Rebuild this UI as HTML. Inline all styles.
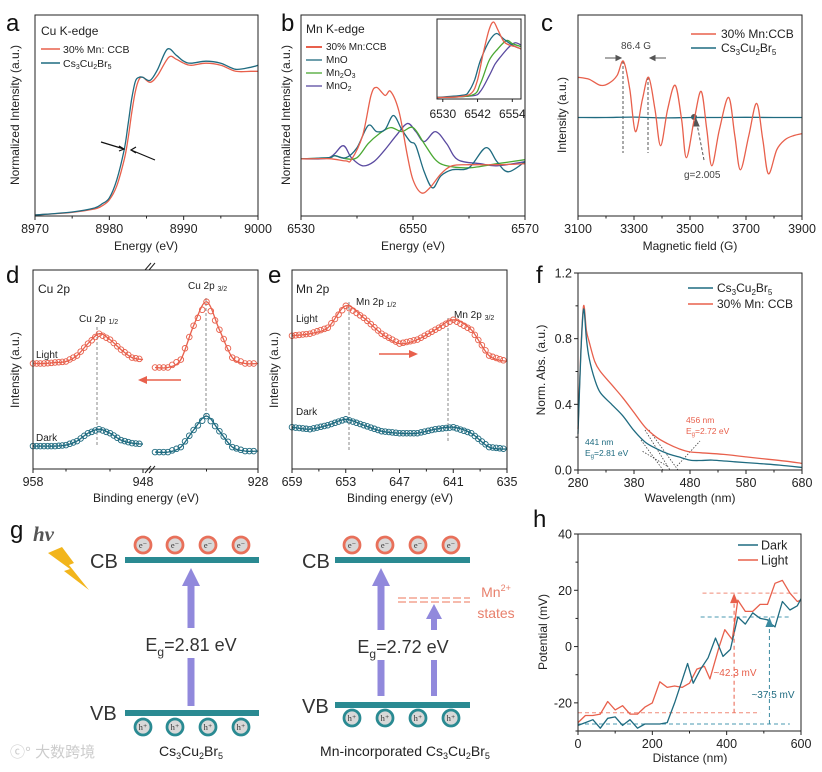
<!DOCTYPE html>
<html><head><meta charset="utf-8"><style>
html,body{margin:0;padding:0;background:#fff;}
svg{display:block;font-family:"Liberation Sans","Noto Sans CJK SC",sans-serif;}
</style></head><body>
<svg id="chart" width="822" height="772" viewBox="0 0 822 772" xmlns="http://www.w3.org/2000/svg">
<rect x="0" y="0" width="822" height="772" fill="#fff"/>
<g font-size="24" fill="#111">
<text x="6" y="31">a</text>
<text x="281" y="31">b</text>
<text x="541" y="31">c</text>
<text x="6" y="283">d</text>
<text x="268" y="283">e</text>
<text x="536" y="283">f</text>
<text x="10" y="538">g</text>
<text x="533" y="527">h</text>
</g>
<g font-size="10.5" fill="#222">
<text x="41" y="35" font-size="12">Cu K-edge</text>
<line x1="41" y1="49" x2="60" y2="49" stroke="#e8604c" stroke-width="1.5"/>
<text x="63" y="53">30% Mn: CCB</text>
<line x1="41" y1="63" x2="60" y2="63" stroke="#1f6b80" stroke-width="1.5"/>
<text x="63" y="67">Cs<tspan font-size="7" dy="2">3</tspan><tspan dy="-2">Cu</tspan><tspan font-size="7" dy="2">2</tspan><tspan dy="-2">Br</tspan><tspan font-size="7" dy="2">5</tspan></text>
</g>
<g font-size="10" fill="#222">
<text x="306" y="33" font-size="12">Mn K-edge</text>
<line x1="306" y1="47" x2="322" y2="47" stroke="#e8604c" stroke-width="2"/>
<text x="326" y="50">30% Mn:CCB</text>
<line x1="306" y1="60" x2="322" y2="60" stroke="#1f6b80" stroke-width="1.3"/>
<text x="326" y="63">MnO</text>
<line x1="306" y1="73" x2="322" y2="73" stroke="#4aa832" stroke-width="1.3"/>
<text x="326" y="76">Mn<tspan font-size="7" dy="2">2</tspan><tspan dy="-2">O</tspan><tspan font-size="7" dy="2">3</tspan></text>
<line x1="306" y1="86" x2="322" y2="86" stroke="#5a4aa0" stroke-width="1.3"/>
<text x="326" y="89">MnO<tspan font-size="7" dy="2">2</tspan></text>
</g>
<g font-size="12" fill="#222">
<line x1="691" y1="34" x2="716" y2="34" stroke="#e8604c" stroke-width="1.5"/>
<text x="721" y="38">30% Mn:CCB</text>
<line x1="691" y1="48" x2="716" y2="48" stroke="#1f6b80" stroke-width="1.5"/>
<text x="721" y="52">Cs<tspan font-size="8" dy="3">3</tspan><tspan dy="-3">Cu</tspan><tspan font-size="8" dy="3">2</tspan><tspan dy="-3">Br</tspan><tspan font-size="8" dy="3">5</tspan></text>
</g>
<g stroke="#555" fill="none">
<line x1="623" y1="61" x2="623" y2="153" stroke-dasharray="3,2"/>
<line x1="648" y1="77" x2="648" y2="153" stroke-dasharray="3,2"/>
<line x1="605" y1="58" x2="621" y2="58"/>
<path d="M621,58 l-5,-2.5 v5z" fill="#555"/>
<line x1="666" y1="58" x2="650" y2="58"/>
<path d="M650,58 l5,-2.5 v5z" fill="#555"/>
<line x1="704" y1="160" x2="697" y2="124" stroke-dasharray="3,2"/>
<path d="M696,119 l-3,7 l6,0z" fill="#555"/>
<circle cx="694" cy="117" r="2.5" fill="#555"/>
</g>
<text x="621" y="49" font-size="10" fill="#444">86.4 G</text>
<text x="684" y="178" font-size="10" fill="#444">g=2.005</text>
<g>
<text x="38" y="293" font-size="12" fill="#222">Cu 2p</text>
<text x="79" y="322" font-size="10" fill="#222">Cu 2p <tspan font-size="7" dy="2">1/2</tspan></text>
<text x="188" y="289" font-size="10" fill="#222">Cu 2p <tspan font-size="7" dy="2">3/2</tspan></text>
<text x="36" y="358" font-size="10" fill="#222">Light</text>
<text x="36" y="441" font-size="10" fill="#222">Dark</text>
<line x1="97" y1="327" x2="97" y2="447" stroke="#888" stroke-dasharray="3,2"/>
<line x1="206" y1="298" x2="206" y2="417" stroke="#888" stroke-dasharray="3,2"/>
<line x1="181" y1="380" x2="145" y2="380" stroke="#e8604c" stroke-width="1.5"/>
<path d="M138,380 l9,-4 v8z" fill="#e8604c"/>
<rect x="148" y="262" width="8" height="8" fill="#fff"/>
<rect x="148" y="465" width="8" height="8" fill="#fff"/>
<path d="M145,270 l6,-7 M149,270 l6,-7 M145,473 l6,-7 M149,473 l6,-7" stroke="#222"/>
</g>
<g>
<text x="296" y="293" font-size="12" fill="#222">Mn 2p</text>
<text x="356" y="305" font-size="10" fill="#222">Mn 2p <tspan font-size="7" dy="2">1/2</tspan></text>
<text x="454" y="318" font-size="10" fill="#222">Mn 2p <tspan font-size="7" dy="2">3/2</tspan></text>
<text x="296" y="322" font-size="10" fill="#222">Light</text>
<text x="296" y="415" font-size="10" fill="#222">Dark</text>
<line x1="349" y1="302" x2="349" y2="450" stroke="#888" stroke-dasharray="3,2"/>
<line x1="448" y1="318" x2="448" y2="443" stroke="#888" stroke-dasharray="3,2"/>
<line x1="379" y1="354" x2="410" y2="354" stroke="#e8604c" stroke-width="1.5"/>
<path d="M418,354 l-9,-4 v8z" fill="#e8604c"/>
</g>
<g font-size="12" fill="#222">
<line x1="688" y1="288" x2="713" y2="288" stroke="#1f6b80" stroke-width="1.5"/>
<text x="717" y="292">Cs<tspan font-size="8" dy="3">3</tspan><tspan dy="-3">Cu</tspan><tspan font-size="8" dy="3">2</tspan><tspan dy="-3">Br</tspan><tspan font-size="8" dy="3">5</tspan></text>
<line x1="688" y1="304" x2="713" y2="304" stroke="#e8604c" stroke-width="1.5"/>
<text x="717" y="308">30% Mn: CCB</text>
</g>
<g font-size="8.5">
<text x="686" y="423" fill="#e8604c">456 nm</text>
<text x="686" y="434" fill="#e8604c">E<tspan font-size="6" dy="2">g</tspan><tspan dy="-2">=2.72 eV</tspan></text>
<text x="585" y="445" fill="#1f6b80">441 nm</text>
<text x="585" y="456" fill="#1f6b80">E<tspan font-size="6" dy="2">g</tspan><tspan dy="-2">=2.81 eV</tspan></text>
<g stroke="#444" stroke-dasharray="1.5,1.5" fill="none" stroke-width="0.8">
<line x1="645" y1="430" x2="670" y2="470"/>
<line x1="649" y1="430" x2="678" y2="470"/>
<line x1="641" y1="440" x2="663" y2="470"/>
<line x1="667" y1="466" x2="642" y2="451"/>
<line x1="677" y1="466" x2="700" y2="441"/>
</g>
</g>
<g>
<text x="33" y="541" font-size="21" font-style="italic" font-weight="bold" font-family="Liberation Serif,serif" fill="#555">hv</text>
<polygon points="48,553 62,547 74,563 69,565 89,590 64,571 70,569" fill="#f2b51c"/>
<text x="90" y="568" font-size="20" fill="#333">CB</text>
<rect x="125" y="557" width="134" height="6" fill="#2a8a92"/>
<text x="90" y="720" font-size="20" fill="#333">VB</text>
<rect x="125" y="710" width="134" height="6" fill="#2a8a92"/>
<text x="302" y="568" font-size="20" fill="#333">CB</text>
<rect x="335" y="557" width="135" height="6" fill="#2a8a92"/>
<text x="302" y="713" font-size="20" fill="#333">VB</text>
<rect x="335" y="702" width="135" height="6" fill="#2a8a92"/>
<g fill="#9189dc">
<path d="M182,586 L191,568 L200,586 Z"/>
<rect x="187.5" y="585" width="7" height="43"/>
<rect x="187.5" y="658" width="7" height="48"/>
<path d="M372,586 L381,568 L390,586 Z"/>
<rect x="377.5" y="585" width="7" height="45"/>
<rect x="377.5" y="660" width="7" height="36"/>
<path d="M426,619 L434,604 L442,619 Z"/>
<rect x="431" y="618" width="6" height="12"/>
<rect x="431" y="660" width="6" height="36"/>
</g>
<text x="191" y="651" font-size="18" fill="#333" text-anchor="middle">E<tspan font-size="12" dy="5">g</tspan><tspan dy="-5">=2.81 eV</tspan></text>
<text x="403" y="653" font-size="18" fill="#333" text-anchor="middle">E<tspan font-size="12" dy="5">g</tspan><tspan dy="-5">=2.72 eV</tspan></text>
<line x1="398" y1="598" x2="470" y2="598" stroke="#f0907a" stroke-width="1.3" stroke-dasharray="8,3"/>
<line x1="398" y1="602" x2="470" y2="602" stroke="#f0907a" stroke-width="1.3" stroke-dasharray="8,3"/>
<text x="496" y="597" font-size="14" fill="#e8806c" text-anchor="middle">Mn<tspan font-size="9" dy="-6">2+</tspan></text>
<text x="496" y="618" font-size="14" fill="#e8806c" text-anchor="middle">states</text>
<text x="191" y="756" font-size="14" fill="#222" text-anchor="middle">Cs<tspan font-size="9" dy="3">3</tspan><tspan dy="-3">Cu</tspan><tspan font-size="9" dy="3">2</tspan><tspan dy="-3">Br</tspan><tspan font-size="9" dy="3">5</tspan></text>
<text x="405" y="756" font-size="14" fill="#222" text-anchor="middle">Mn-incorporated Cs<tspan font-size="9" dy="3">3</tspan><tspan dy="-3">Cu</tspan><tspan font-size="9" dy="3">2</tspan><tspan dy="-3">Br</tspan><tspan font-size="9" dy="3">5</tspan></text>
<text x="10" y="757" font-size="15" fill="#ccc">ⓒ° 大数跨境</text>
</g>
<g id="dyn"></g>
</svg>
<script>
const aEnergy=[8970,8975,8978,8979,8980,8981,8982,8982.5,8983,8983.5,8984,8984.5,8985.5,8986.5,8987.8,8989,8990,8991,8993,8995,8997,8999,9000];
const aCs=[0.005,0.02,0.04,0.06,0.09,0.18,0.33,0.45,0.58,0.67,0.69,0.69,0.675,0.73,0.83,0.80,0.77,0.76,0.77,0.76,0.73,0.74,0.75];
const aEnergyCCB=[8970,8975,8978,8979,8980,8981,8982,8982.5,8983,8983.5,8984,8984.5,8985.5,8986.5,8988,8989,8990,8991,8993,8995,8997,8999,9000];
const aCCB=[0.005,0.018,0.035,0.05,0.08,0.15,0.28,0.38,0.51,0.62,0.68,0.69,0.665,0.70,0.79,0.78,0.76,0.75,0.76,0.75,0.72,0.72,0.72];

const bE_CCB=[6530,6535,6538,6539,6541,6542.5,6543.5,6545,6546,6547.5,6549,6550,6551.5,6553,6555,6557,6560,6565,6570];
const bCCB=[0.284,0.285,0.274,0.28,0.40,0.60,0.64,0.60,0.62,0.52,0.30,0.18,0.115,0.14,0.21,0.25,0.255,0.255,0.26];
const bE_MnO=[6530,6535,6536,6538,6540,6542,6543.5,6545,6546.5,6548,6549.5,6550.5,6552,6553.5,6555,6557,6560,6563,6565,6567,6570];
const bMnO=[0.284,0.29,0.30,0.29,0.34,0.45,0.42,0.43,0.50,0.43,0.37,0.35,0.22,0.14,0.20,0.23,0.24,0.34,0.27,0.22,0.27];
const bE_Mn2O3=[6530,6535,6536,6538,6540,6542,6544,6546,6548,6550,6552,6554,6556,6560,6565,6570];
const bMn2O3=[0.284,0.29,0.30,0.285,0.29,0.36,0.41,0.44,0.42,0.44,0.36,0.28,0.25,0.24,0.26,0.28];
const bE_MnO2=[6530,6535,6537.5,6539,6541,6543,6545,6547,6549,6550.5,6552,6554,6556,6558,6562,6565,6570];
const bMnO2=[0.284,0.29,0.35,0.29,0.25,0.27,0.33,0.40,0.46,0.42,0.37,0.42,0.36,0.28,0.26,0.25,0.27];
const inE_CCB=[6528,6536,6540,6542,6544,6546,6547.5,6549,6551,6553,6555,6557];
const inCCB=[0.02,0.03,0.08,0.25,0.6,0.9,1.0,0.9,0.75,0.7,0.68,0.65];
const inE_MnO=[6528,6537,6539,6541,6543,6546,6548.5,6551,6554,6557];
const inMnO=[0.02,0.05,0.1,0.25,0.5,0.75,0.85,0.78,0.7,0.65];
const inE_Mn2O3=[6528,6540,6543,6546,6549,6552,6554,6557];
const inMn2O3=[0.02,0.05,0.2,0.5,0.65,0.76,0.72,0.68];
const inE_MnO2=[6528,6540,6543,6546,6548,6550,6553,6555,6557];
const inMnO2=[0.02,0.04,0.1,0.3,0.45,0.55,0.68,0.73,0.7];

const cField=[3100,3140,3180,3210,3240,3262,3285,3305,3330,3352,3375,3395,3420,3447,3470,3487,3515,3540,3560,3578,3605,3638,3660,3680,3710,3738,3760,3780,3810,3840,3870,3900];
const cCCB=[0.69,0.68,0.65,0.66,0.70,0.77,0.63,0.42,0.58,0.69,0.53,0.35,0.53,0.65,0.48,0.29,0.48,0.62,0.43,0.25,0.43,0.59,0.40,0.23,0.40,0.56,0.38,0.21,0.33,0.38,0.40,0.41];
const cFieldCs=[3100,3200,3300,3400,3500,3600,3700,3800,3900];
const cCs=[0.49,0.49,0.492,0.488,0.49,0.49,0.491,0.49,0.49];

const dE_left=[958,957,956,955,954,953,952,951,950,949,948];
const dLightLeft=[0.53,0.53,0.535,0.54,0.57,0.63,0.68,0.65,0.60,0.56,0.55];
const dDarkLeft=[0.115,0.115,0.115,0.12,0.14,0.18,0.20,0.18,0.145,0.13,0.125];
const dE_right=[936,935,934,933,932,931,930,929,928];
const dLightRight=[0.51,0.51,0.55,0.72,0.84,0.70,0.56,0.53,0.53];
const dDarkRight=[0.085,0.085,0.11,0.196,0.266,0.19,0.11,0.09,0.09];

const eE=[659,657,655,653,651,649,647,645,643,641,639,637,635];
const eLight=[0.67,0.68,0.71,0.82,0.76,0.68,0.63,0.65,0.70,0.75,0.70,0.57,0.54];
const eDark=[0.21,0.20,0.22,0.25,0.22,0.19,0.18,0.18,0.20,0.21,0.18,0.11,0.10];

const fWave=[280,285,290,295,300,310,320,340,360,380,400,420,440,460,480,500,520,560,600,640,680];
const fCs=[0.22,0.7,0.98,0.8,0.68,0.55,0.47,0.40,0.33,0.24,0.17,0.13,0.10,0.08,0.06,0.058,0.06,0.05,0.04,0.03,0.015];
const fWaveCCB=[280,285,290,295,300,310,320,340,360,380,400,420,440,460,480,500,540,580,620,660,680];
const fCCB=[0.25,0.72,1.0,0.85,0.78,0.66,0.60,0.52,0.44,0.35,0.26,0.20,0.16,0.13,0.11,0.105,0.095,0.08,0.065,0.05,0.04];

const hDistDark=[0,20,40,60,80,100,120,140,160,180,200,220,240,260,280,295,310,330,350,370,390,410,430,450,470,490,510,520,530,550,570,590,600];
const hDark=[-28,-27,-26,-29,-25.5,-25,-28,-26,-29,-27.5,-27.5,-27.5,-27,-20,-12,-6,-13,-8,-4,3,-3.5,-1,10.5,8,12,10,9.5,8,7,16,13,14.5,17];
const hDistLight=[0,20,40,60,80,100,120,140,160,180,200,220,240,260,280,300,320,340,355,380,395,415,430,450,470,490,510,530,550,570,590,600];
const hLight=[-27,-24.5,-24.5,-24,-19.5,-22.5,-21,-24,-24,-21.5,-20,-12.5,-14.5,-14,-14.5,-13,-8,-7,-11.5,0,6,2.5,16.5,12.5,12.5,15,15,22.5,23.5,19,16,16.5];
const hLevelsLight=[-23.5,19];
const hLevelsDark=[-27.5,10.5];
const hTickY=[-20,0,20,40];
const hTickX=[0,200,400,600];

const RED='#e8604c', TEAL='#1f6b80';
const NS='http://www.w3.org/2000/svg';
const root=document.getElementById('dyn');
function mk(tag,attrs,parent){const e=document.createElementNS(NS,tag);for(const k in attrs)e.setAttribute(k,attrs[k]);(parent||root).appendChild(e);return e;}
function lin(d0,d1,r0,r1){return v=>r0+(v-d0)/(d1-d0)*(r1-r0);}
function smoothPath(p){let d='M'+p[0][0].toFixed(1)+','+p[0][1].toFixed(1);
 for(let i=0;i<p.length-1;i++){const p0=p[i-1]||p[i],p1=p[i],p2=p[i+1],p3=p[i+2]||p2;
  d+=' C'+(p1[0]+(p2[0]-p0[0])/6).toFixed(1)+','+(p1[1]+(p2[1]-p0[1])/6).toFixed(1)+' '+(p2[0]-(p3[0]-p1[0])/6).toFixed(1)+','+(p2[1]-(p3[1]-p1[1])/6).toFixed(1)+' '+p2[0].toFixed(1)+','+p2[1].toFixed(1);}
 return d;}
function curve(xs,ys,sx,sy,color,name,w,smooth){
 const pts=xs.map((x,i)=>[sx(x),sy(ys[i])]);
 const d=smooth===false?'M'+pts.map(q=>q[0].toFixed(1)+','+q[1].toFixed(1)).join(' L'):smoothPath(pts);
 const p=mk('path',{d:d,fill:'none',stroke:color,'stroke-width':w||1.3,'stroke-linejoin':'round'});
 
 
 return p;}
function markers(xs,ys,sx,sy,color,name,step){
 const g=mk('g',{fill:'none',stroke:color,'stroke-width':0.9});
 
 
 for(let i=0;i<xs.length-1;i++){for(let k=0;k<step;k++){const t=k/step;
  const x=sx(xs[i])+(sx(xs[i+1])-sx(xs[i]))*t, y=sy(ys[i])+(sy(ys[i+1])-sy(ys[i]))*t;
  const c=mk('circle',{cx:x.toFixed(1),cy:y.toFixed(1),r:2.8},g);
  
  }}
 return g;}
function txt(x,y,s,size,anchor,name,color,rot){
 const t=mk('text',{x:x,y:y,'font-size':size,'text-anchor':anchor||'middle',fill:color||'#222'});
 if(rot)t.setAttribute('transform','rotate(-90 '+x+' '+y+')');
 t.textContent=s;
 
 
 return t;}
function frame(x0,y0,x1,y1,name){
 const r=mk('rect',{x:x0,y:y0,width:x1-x0,height:y1-y0,fill:'none',stroke:'#222','stroke-width':1});
 
 }
function xTicks(vals,labels,sx,yb,name,minor){
 vals.forEach((v,i)=>{const l=mk('line',{x1:sx(v),x2:sx(v),y1:yb,y2:yb+4,stroke:'#222'});
  
  
  if(labels[i]!=='')txt(sx(v),yb+17,labels[i],12.5,'middle',name+'-label');});
 (minor||[]).forEach(v=>{const l=mk('line',{x1:sx(v),x2:sx(v),y1:yb,y2:yb+2.5,stroke:'#222'});
  
  });}
function yTicks(vals,labels,sy,xl,name,minor){
 vals.forEach((v,i)=>{const l=mk('line',{x1:xl-4,x2:xl,y1:sy(v),y2:sy(v),stroke:'#222'});
  
  
  txt(xl-6,sy(v)+4.5,labels[i],12.5,'end',name+'-label');});
 (minor||[]).forEach(v=>{const l=mk('line',{x1:xl-2.5,x2:xl,y1:sy(v),y2:sy(v),stroke:'#222'});
  
  });}

const sxA=lin(8970,9000,35,258), syA=lin(0,1,216,15);
curve(aEnergyCCB,aCCB,sxA,syA,RED,'series-a-ccb');
curve(aEnergy,aCs,sxA,syA,TEAL,'series-a-cs3cu2br5');
frame(35,15,258,216,'plot-area-a');
xTicks([8970,8980,8990,9000],['8970','8980','8990','9000'],sxA,216,'x-axis-a',[8975,8985,8995]);
txt(146,250,'Energy (eV)',12,'middle','x-axis-title-a');
txt(19,115,'Normalized Intensity (a.u.)',12,'middle','y-axis-title-a','#222',true);
{const l1=mk('path',{d:'M101,142 L124,149 M119,146 l5,3 l-5,2 M155,160 L131,150 M136,147 l-5,3 l5,3',stroke:'#111','stroke-width':1.2,fill:'none'});

}

const sxB=lin(6530,6570,301,525), syB=lin(0,1,216,15);
curve(bE_MnO2,bMnO2,sxB,syB,'#5a4aa0','series-b-mno2');
curve(bE_Mn2O3,bMn2O3,sxB,syB,'#4aa832','series-b-mn2o3');
curve(bE_MnO,bMnO,sxB,syB,TEAL,'series-b-mno');
curve(bE_CCB,bCCB,sxB,syB,RED,'series-b-ccb');
frame(301,15,525,216,'plot-area-b');
xTicks([6530,6550,6570],['6530','6550','6570'],sxB,216,'x-axis-b',[6540,6560]);
txt(413,250,'Energy (eV)',12,'middle','x-axis-title-b');
txt(290,115,'Normalized Intensity (a.u.)',12,'middle','y-axis-title-b','#222',true);
{const bg=mk('rect',{x:437,y:19,width:84,height:80,fill:'#fff'});

}
const sxI=lin(6528,6557,437,521), syI=lin(0,1,99,22);
curve(inE_MnO2,inMnO2,sxI,syI,'#5a4aa0','inset-mno2');
curve(inE_Mn2O3,inMn2O3,sxI,syI,'#4aa832','inset-mn2o3');
curve(inE_MnO,inMnO,sxI,syI,TEAL,'inset-mno');
curve(inE_CCB,inCCB,sxI,syI,RED,'inset-ccb');
frame(437,19,521,99,'inset-frame');
[6530,6542,6554].forEach(v=>{const l=mk('line',{x1:sxI(v),x2:sxI(v),y1:99,y2:102,stroke:'#222'});
 
 
 txt(sxI(v),118,String(v),12,'middle','inset-tick-label');});

const sxC=lin(3100,3900,578,802), syC=lin(0,1,216,15);
curve(cFieldCs,cCs,sxC,syC,TEAL,'series-c-cs3cu2br5');
curve(cField,cCCB,sxC,syC,RED,'series-c-ccb');
frame(578,15,802,216,'plot-area-c');
xTicks([3100,3300,3500,3700,3900],['3100','3300','3500','3700','3900'],sxC,216,'x-axis-c',[3200,3400,3600,3800]);
txt(690,250,'Magnetic field (G)',12,'middle','x-axis-title-c');
txt(566,115,'Intensity (a.u.)',12,'middle','y-axis-title-c','#222',true);

const sxDL=lin(958,948,33,143), sxDR=lin(936,928,155,258), syD=lin(0,1,469,270);
markers(dE_left,dLightLeft,sxDL,syD,RED,'markers-d-light-left',3);
markers(dE_right,dLightRight,sxDR,syD,RED,'markers-d-light-right',3);
markers(dE_left,dDarkLeft,sxDL,syD,TEAL,'markers-d-dark-left',3);
markers(dE_right,dDarkRight,sxDR,syD,TEAL,'markers-d-dark-right',3);
curve(dE_left,dLightLeft,sxDL,syD,RED,'fit-d-light-left');
curve(dE_right,dLightRight,sxDR,syD,RED,'fit-d-light-right');
curve(dE_left,dDarkLeft,sxDL,syD,TEAL,'fit-d-dark-left');
curve(dE_right,dDarkRight,sxDR,syD,TEAL,'fit-d-dark-right');
frame(33,270,258,469,'plot-area-d');
xTicks([958,948],['958','948'],sxDL,469,'x-axis-d',[955,951]);
xTicks([928],['928'],sxDR,469,'x-axis-d-right',[932]);
txt(146,502,'Binding energy (eV)',12,'middle','x-axis-title-d');
txt(19,370,'Intensity (a.u.)',12,'middle','y-axis-title-d','#222',true);

const sxE=lin(659,635,292,507), syE=lin(0,1,469,270);
markers(eE,eLight,sxE,syE,RED,'markers-e-light',5);
markers(eE,eDark,sxE,syE,TEAL,'markers-e-dark',5);
curve(eE,eLight,sxE,syE,RED,'fit-e-light');
curve(eE,eDark,sxE,syE,TEAL,'fit-e-dark');
frame(292,270,507,469,'plot-area-e');
xTicks([659,653,647,641,635],['659','653','647','641','635'],sxE,469,'x-axis-e',[656,650,644,638]);
txt(400,502,'Binding energy (eV)',12,'middle','x-axis-title-e');
txt(278,370,'Intensity (a.u.)',12,'middle','y-axis-title-e','#222',true);

const sxF=lin(280,680,578,802), syF=lin(0,1.2,470,273);
curve(fWaveCCB,fCCB,sxF,syF,RED,'series-f-ccb');
curve(fWave,fCs,sxF,syF,TEAL,'series-f-cs3cu2br5');
frame(578,273,802,470,'plot-area-f');
xTicks([280,380,480,580,680],['280','380','480','580','680'],sxF,470,'x-axis-f',[330,430,530,630]);
yTicks([0,0.4,0.8,1.2],['0.0','0.4','0.8','1.2'],syF,578,'y-axis-f',[0.2,0.6,1.0]);
txt(690,502,'Wavelength (nm)',12,'middle','x-axis-title-f');
txt(545,370,'Norm. Abs. (a.u.)',12,'middle','y-axis-title-f','#222',true);

const sxH=lin(0,600,578,801), syH=lin(-30,40,731,534);
function dashH(v,x0,x1,color,name){const l=mk('line',{x1:sxH(x0),x2:sxH(x1),y1:syH(v),y2:syH(v),stroke:color,'stroke-dasharray':'4,3','stroke-width':1});
 
 }
dashH(hLevelsLight[0],0,490,'#f08a78','level-light-low');
dashH(hLevelsLight[1],335,600,'#f08a78','level-light-high');
dashH(hLevelsDark[0],0,570,'#4a9ab0','level-dark-low');
dashH(hLevelsDark[1],330,570,'#4a9ab0','level-dark-high');
function vArrow(x,v0,v1,color,name){const l=mk('line',{x1:sxH(x),x2:sxH(x),y1:syH(v0),y2:syH(v1)+6,stroke:color,'stroke-dasharray':'4,3'});
 
 
 const h=mk('path',{d:'M'+sxH(x)+','+syH(v1)+' l-4,10 l8,0z',fill:color});
 
 }
curve(hDistLight,hLight,sxH,syH,RED,'series-h-light',1.3,false);
curve(hDistDark,hDark,sxH,syH,TEAL,'series-h-dark',1.3,false);
vArrow(420,hLevelsLight[0],hLevelsLight[1],'#e8604c','delta-arrow-light');
vArrow(515,hLevelsDark[0],hLevelsDark[1],'#3a8aa0','delta-arrow-dark');
txt(735,676,'~42.3 mV',10,'middle','delta-label-light',RED);
txt(773,698,'~37.5 mV',10,'middle','delta-label-dark',TEAL);
frame(578,534,801,731,'plot-area-h');
xTicks(hTickX,hTickX.map(String),sxH,731,'x-axis-h',[100,300,500]);
yTicks(hTickY,hTickY.map(String),syH,578,'y-axis-h',[-30,-10,10,30]);
txt(690,762,'Distance (nm)',12,'middle','x-axis-title-h');
txt(547,632,'Potential (mV)',12,'middle','y-axis-title-h','#222',true);
[[TEAL,'Dark',545],[RED,'Light',560]].forEach(e=>{const l=mk('line',{x1:738,x2:758,y1:e[2],y2:e[2],stroke:e[0],'stroke-width':1.5});
 
 
 txt(761,e[2]+4.5,e[1],12.5,'start','legend-entry-h');});

const eXsLeft=[143,175,208,241], eXsRight=[352,385,418,451];
function carrier(x,y,ring,label,name){const g=mk('g',{});
 
 
 mk('circle',{cx:x,cy:y,r:8,fill:'#d8d8d8',stroke:ring,'stroke-width':2.8},g);
 const t=mk('text',{x:x,y:y+3,'font-size':8.5,'text-anchor':'middle',fill:'#333','font-family':'Liberation Serif,serif'},g);
 t.textContent=label;}
eXsLeft.forEach(x=>carrier(x,545,'#e8705a','e⁻','electron-left'));
eXsRight.forEach(x=>carrier(x,545,'#e8705a','e⁻','electron-right'));
eXsLeft.forEach(x=>carrier(x,727,'#2a8a92','h⁺','hole-left'));
eXsRight.forEach(x=>carrier(x,718,'#2a8a92','h⁺','hole-right'));
</script>
</body></html>
